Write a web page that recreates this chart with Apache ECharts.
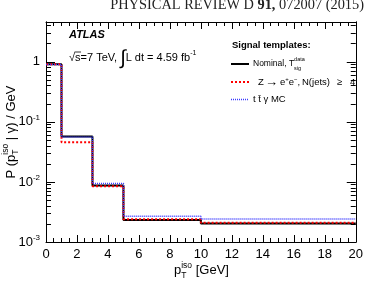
<!DOCTYPE html>
<html>
<head>
<meta charset="utf-8">
<script src="https://cdn.jsdelivr.net/npm/echarts@6/dist/echarts.min.js"></script>
<style>
  html, body { margin: 0; padding: 0; background: #fff; }
  #main { width: 366px; height: 282px; }
</style>
</head>
<body>
<div id="main"></div>
<script>
// bin edges (GeV) and per-bin content of the three templates
var binEdges = [0, 1, 3, 5, 10, 20];
var nominal = [0.91, 0.057, 0.0087, 0.00233, 0.00204];
var zee = [0.91, 0.046, 0.0085, 0.0024, 0.0021];
var ttgamma = [0.90, 0.056, 0.0094, 0.00268, 0.00242];

var yMajor = [0.001, 0.01, 0.1, 1];
var yMajorLabels = ['10{s|-3}', '10{s|-2}', '10{s|-1}', '1'];
var yMinor = [];
[0.001, 0.01, 0.1, 1].forEach(function (d) {
  for (var k = 2; k <= 9; k++) {
    if (d * k < 4.6) yMinor.push(+(d * k).toPrecision(3));
  }
});

var FF = '"Liberation Sans", Arial, Helvetica, sans-serif';
var SERIF = '"Liberation Serif", "Times New Roman", serif';

// histogram outline: left edge of every bin + closing point at last edge
function histData(vals) {
  var out = [];
  for (var i = 0; i < binEdges.length; i++) {
    out.push([binEdges[i], vals[Math.min(i, vals.length - 1)]]);
  }
  return out;
}

// small helper to lay out text with stacked sub/superscripts
var ctx = document.createElement('canvas').getContext('2d');
function tw(t, size, weight, style, fam) {
  ctx.font = (style || 'normal') + ' ' + (weight || 'normal') + ' ' + size + 'px ' + (fam || FF);
  return ctx.measureText(t).width;
}
function latex(segs) {
  var x = 0, start = 0, els = [];
  segs.forEach(function (s) {
    var x0 = s.x != null ? s.x : (s.stack ? start : x);
    if (!s.stack) start = x0;
    var w = tw(s.t, s.size, s.weight, s.fontStyle);
    els.push({
      type: 'text', x: x0, y: s.dy || 0,
      style: {
        text: s.t, fontSize: s.size, fontFamily: FF,
        fontWeight: s.weight || 'normal', fontStyle: s.fontStyle || 'normal',
        fill: '#000', textAlign: 'left', textVerticalAlign: 'middle',
        align: 'left', verticalAlign: 'middle'
      }
    });
    x = s.stack ? Math.max(x, x0 + w) : x0 + w;
  });
  return { els: els, width: x };
}
function shift(els, dx) {
  els.forEach(function (e) { e.x += dx; });
  return els;
}

var yTitle = latex([
  { t: 'P (p', size: 13 },
  { t: 'iso', size: 8.5, dy: -5 },
  { t: 'T', size: 8.5, dy: 5, stack: true },
  { t: ' | \u03b3) / GeV', size: 13 }
]);
var xTitle = latex([
  { t: 'p', size: 13 },
  { t: 'iso', size: 8.5, dy: -4 },
  { t: 'T', size: 8.5, dy: 6, stack: true },
  { t: ' [GeV]', size: 13 }
]);
var lumi = latex([
  { t: '\u221as=7 TeV, ', size: 11 },
  { t: '\u222b', size: 20, dy: 0 },
  { t: 'L dt = 4.59 fb', size: 11 },
  { t: '-1', size: 7, dy: -5 }
]);
var sqrtW = tw('\u221a', 11), sW = tw('s', 11);
var nomText = latex([
  { t: 'Nominal, T', size: 8.5 },
  { t: 'data', size: 5.5, dy: -5 },
  { t: 'sig', size: 5.5, dy: 4, stack: true }
]);
// TLatex spacing of the scan: wide arrow and gaps
var zeeText = latex([
  { t: 'Z', size: 9.5, x: 0 },
  { t: '\u2192', size: 13, x: 7 },
  { t: 'e', size: 9.5, x: 22 },
  { t: '+', size: 6, dy: -3 },
  { t: 'e', size: 9.5 },
  { t: '\u2212', size: 6, dy: -3 },
  { t: ',', size: 9.5 },
  { t: 'N(jets)', size: 9.5, x: 44 },
  { t: '\u2265', size: 9.5, x: 79 },
  { t: '4', size: 9.5, x: 92 }
]);
var ttText = latex([
  { t: 't t\u0304 \u03b3 MC', size: 9.5 }
]);

// header sized to span the same width as in the page scan
var header = 'PHYSICAL REVIEW D 91, 072007 (2015)';
var hSize = 13 * 254 / tw(header, 13, 'normal', 'normal', SERIF);

var axisBlack = { color: '#000', width: 1 };

var xBase = {
  type: 'value', min: 0, max: 20, interval: 2,
  axisLine: { show: true, onZero: false, lineStyle: axisBlack },
  axisTick: { show: true, inside: true, length: 7, lineStyle: axisBlack },
  minorTick: { show: true, splitNumber: 4, length: 4, lineStyle: axisBlack },
  splitLine: { show: false }
};

function yAxisDef(pos, ticks, len, withLabels) {
  return {
    type: 'log', logBase: 10, min: 0.001, max: 4.6, position: pos,
    axisLine: { show: true, onZero: false, lineStyle: axisBlack },
    axisTick: { show: true, inside: true, length: len, customValues: ticks, lineStyle: axisBlack },
    axisLabel: withLabels ? {
      show: true, customValues: yMajor, margin: 6, color: '#000',
      fontSize: 13, fontFamily: FF,
      formatter: function (v) {
        var idx = yMajor.findIndex(function (m) { return Math.abs(Math.log10(m) - Math.log10(v)) < 1e-6; });
        return idx >= 0 ? yMajorLabels[idx] : '';
      },
      rich: { s: { fontSize: 8, fontFamily: FF, color: '#000', padding: [0, 0, 8, 0] } }
    } : { show: false },
    splitLine: { show: false },
    minorTick: { show: false }
  };
}

var chart = echarts.init(document.getElementById('main'), null, { renderer: 'canvas' });
chart.setOption({
  animation: false,
  backgroundColor: '#fff',
  grid: { left: 46, right: 8, top: 22, bottom: 40, containLabel: false },
  xAxis: [
    Object.assign({}, xBase, {
      position: 'bottom',
      axisLabel: { show: true, margin: 6, color: '#000', fontSize: 13, fontFamily: FF }
    }),
    Object.assign({}, xBase, { position: 'top', axisLabel: { show: false } })
  ],
  yAxis: [
    yAxisDef('left', yMajor, 9, true),
    yAxisDef('left', yMinor, 5, false),
    yAxisDef('right', yMajor, 9, false),
    yAxisDef('right', yMinor, 5, false)
  ],
  series: [
    {
      name: 'Nominal', type: 'line', step: 'end', symbol: 'none',
      data: histData(nominal),
      lineStyle: { color: '#000', width: 2 }, z: 2
    },
    {
      name: 'Z->ee, N(jets)>=4', type: 'line', step: 'end', symbol: 'none',
      data: histData(zee),
      lineStyle: { color: '#ff0000', width: 2, type: [2, 2] }, z: 3
    },
    {
      name: 'ttgamma MC', type: 'line', step: 'end', symbol: 'none',
      data: histData(ttgamma),
      lineStyle: { color: '#3a3aff', width: 1.5, type: [1, 1] }, z: 4
    }
  ],
  graphic: [
    {
      type: 'text', x: 364, y: 12.5,
      style: {
        text: 'PHYSICAL REVIEW D {b|91,} 072007 (2015)',
        fontSize: hSize, fontFamily: SERIF,
        fill: '#222', textAlign: 'right', textVerticalAlign: 'bottom',
        align: 'right', verticalAlign: 'bottom',
        rich: { b: { fontSize: hSize, fontWeight: 'bold', fontFamily: SERIF, fill: '#222' } }
      }
    },
    {
      type: 'text', x: 69, y: 35,
      style: {
        text: 'ATLAS', fontSize: 11, fontWeight: 'bold', fontStyle: 'italic',
        fontFamily: FF, fill: '#000', textVerticalAlign: 'middle', verticalAlign: 'middle'
      }
    },
    { type: 'group', x: 69, y: 58, children: lumi.els },
    { type: 'line', shape: { x1: 69 + sqrtW - 0.5, y1: 52, x2: 69 + sqrtW + sW + 0.5, y2: 52 }, style: { stroke: '#000', lineWidth: 0.8 } },
    {
      type: 'text', x: 232, y: 45.5,
      style: {
        text: 'Signal templates:', fontSize: 9.5, fontWeight: 'bold',
        fontFamily: FF, fill: '#000', textVerticalAlign: 'middle', verticalAlign: 'middle'
      }
    },
    { type: 'line', shape: { x1: 231, y1: 64, x2: 249, y2: 64 }, style: { stroke: '#000', lineWidth: 2 } },
    { type: 'group', x: 253, y: 64, children: nomText.els },
    { type: 'line', shape: { x1: 231, y1: 82, x2: 249, y2: 82 }, style: { stroke: '#ff0000', lineWidth: 2, lineDash: [2, 2] } },
    { type: 'group', x: 258, y: 82, children: zeeText.els },
    { type: 'line', shape: { x1: 231, y1: 99.5, x2: 249, y2: 99.5 }, style: { stroke: '#3a3aff', lineWidth: 1.5, lineDash: [1, 1] } },
    { type: 'group', x: 253, y: 99.5, children: ttText.els },
    { type: 'group', x: 174, y: 270, children: xTitle.els },
    { type: 'group', x: 11, y: 132, rotation: Math.PI / 2, children: shift(yTitle.els, -yTitle.width / 2) }
  ]
});
</script>
</body>
</html>
